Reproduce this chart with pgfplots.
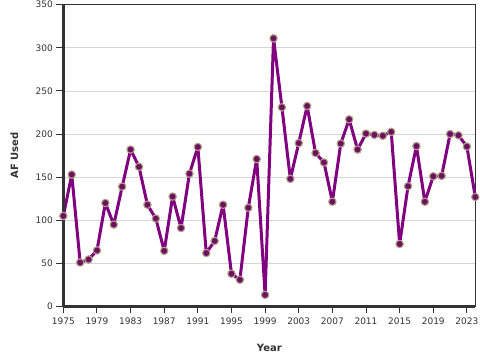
\documentclass[border=0pt]{standalone}
\usepackage{fontspec}
\setmainfont{DejaVu Sans}
\usepackage{pgfplots}
\pgfplotsset{compat=1.18}
\definecolor{txt}{HTML}{333333}
\definecolor{linep}{HTML}{800080}
\definecolor{markf}{HTML}{6E1060}
\definecolor{marke}{HTML}{B0A088}
\definecolor{gridc}{HTML}{D6D6D6}
\begin{document}
\begin{tikzpicture}
\begin{axis}[
  scale only axis,
  width=411.7pt, height=301.6pt,
  xmin=1975, xmax=2024,
  ymin=0, ymax=350,
  xtick={1975,1979,...,2023},
  ytick={0,50,...,350},
  tick pos=left,
  tick align=outside,
  major tick length=7pt,
  every tick/.style={txt, line width=1pt},
  ymajorgrids,
  grid style={gridc, line width=0.8pt},
  axis line style={txt, line width=1pt},
  /pgf/number format/assume math mode=true,
  xticklabel style={/pgf/number format/1000 sep={}, font=\fontsize{9}{10}\selectfont, text=txt, yshift=-1pt},
  yticklabel style={font=\fontsize{9}{10}\selectfont, text=txt, xshift=0pt},
  xlabel={\textbf{Year}},
  ylabel={\textbf{AF Used}},
  xlabel style={font=\fontsize{10}{12}\selectfont, text=txt, at={(rel axis cs:0.5,0)}, anchor=center, yshift=-41pt},
  ylabel style={font=\fontsize{10}{12}\selectfont, text=txt, at={(rel axis cs:0,0.5)}, anchor=center, rotate=0, yshift=49pt},
  clip=false,
]
\addplot[linep, line width=3pt, line join=round, mark=*, mark size=3.7pt,
  mark options={fill=markf, draw=marke, line width=1.1pt}]
coordinates {
(1975,105) (1976,153) (1977,51) (1978,54.5) (1979,65) (1980,120) (1981,95)
(1982,139) (1983,182) (1984,162) (1985,118) (1986,102) (1987,64.5) (1988,127.5)
(1989,91) (1990,154) (1991,185) (1992,62) (1993,76) (1994,118) (1995,38)
(1996,31) (1997,114.5) (1998,171) (1999,13.5) (2000,311) (2001,231) (2002,148)
(2003,189.5) (2004,232.5) (2005,178) (2006,167) (2007,121.5) (2008,189) (2009,217)
(2010,182) (2011,200.5) (2012,199) (2013,198) (2014,202.5) (2015,72.5) (2016,139.5)
(2017,186) (2018,121.5) (2019,151) (2020,151.5) (2021,200) (2022,198.5) (2023,185.5)
(2024,127)
};
\draw[txt, line width=2.5pt] (rel axis cs:0,0) -- (rel axis cs:0,1);
\draw[txt, line width=2.5pt] (rel axis cs:0,0) -- (rel axis cs:1,0);
\end{axis}
\pgfresetboundingbox
\path[use as bounding box] ([xshift=-63.3pt,yshift=-53.7pt]current axis.south west) rectangle ([xshift=4.7pt,yshift=4.7pt]current axis.north east);
\end{tikzpicture}
\end{document}
